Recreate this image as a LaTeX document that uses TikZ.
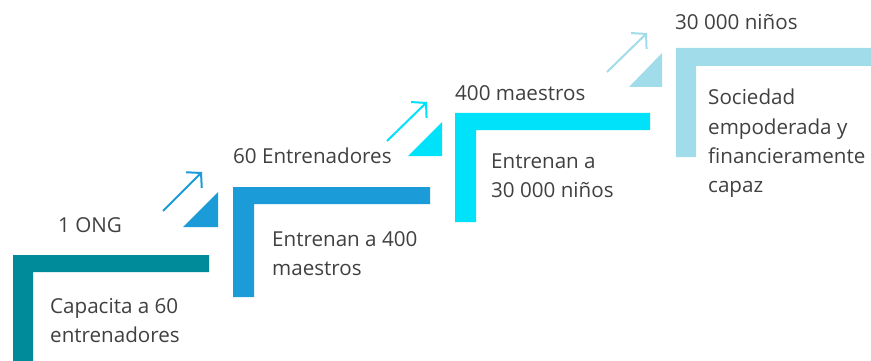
\documentclass[tikz,border=0pt]{standalone}
\usepackage{fontspec}
\setmainfont{Open Sans}
\usetikzlibrary{arrows.meta}
\definecolor{cteal}{RGB}{0,139,155}
\definecolor{cblue}{RGB}{27,155,216}
\definecolor{ccyan}{RGB}{0,225,250}
\definecolor{clight}{RGB}{161,220,234}
\definecolor{ctext}{RGB}{64,64,64}
\tikzset{
  lbl/.style={anchor=base west,inner sep=0pt,text=ctext,font=\fontsize{20.6}{29.5}\selectfont},
  uparrow/.style={line width=2pt,-{Straight Barb[length=10pt,width=22pt,line width=2pt]}},
}
\begin{document}
\begin{tikzpicture}[x=1pt,y=-1pt]
\useasboundingbox (0,0) rectangle (871,361);
% step 1
\fill[cteal] (13,255) -- (209,255) -- (209,272) -- (33,272) -- (33,361) -- (13,361) -- cycle;
% step 2
\fill[cblue] (233,187) -- (430,187) -- (430,204) -- (254,204) -- (254,297) -- (233,297) -- cycle;
\fill[cblue] (183,227) -- (218,192) -- (218,227) -- cycle;
\coordinate (a2s) at (163,211); \coordinate (a2e) at (202,172);
\draw[cblue,uparrow] (a2s) -- (a2e);
% step 3
\fill[ccyan] (455,113) -- (650,113) -- (650,130) -- (476,130) -- (476,222) -- (455,222) -- cycle;
\fill[ccyan] (408,156) -- (442,122) -- (442,156) -- cycle;
\coordinate (a3s) at (387,141); \coordinate (a3e) at (427,102);
\draw[ccyan,uparrow] (a3s) -- (a3e);
% step 4
\fill[clight] (676,48) -- (871,48) -- (871,66) -- (696,66) -- (696,157) -- (676,157) -- cycle;
\fill[clight] (629,87) -- (662,53) -- (662,87) -- cycle;
\coordinate (a4s) at (607,72); \coordinate (a4e) at (647,33);
\draw[clight,uparrow] (a4s) -- (a4e);
% texts
\node[lbl] (t1) at (58,232) {1 ONG};
\node[lbl] (t1a) at (50,313) {Capacita a 60};
\node[lbl] (t1b) at (50,342) {entrenadores};
\node[lbl] (t2) at (233,164) {60 Entrenadores};
\node[lbl] (t2a) at (272,246) {Entrenan a 400};
\node[lbl] (t2b) at (272,275) {maestros};
\node[lbl] (t3) at (455,100) {400 maestros};
\node[lbl] (t3a) at (491,168) {Entrenan a};
\node[lbl] (t3b) at (491,197) {30 000 niños};
\node[lbl] (t4) at (675,30) {30 000 niños};
\node[lbl] (t4a) at (708,105) {Sociedad};
\node[lbl] (t4b) at (708,134) {empoderada y};
\node[lbl] (t4c) at (708,163) {financieramente};
\node[lbl] (t4d) at (708,192) {capaz};
\end{tikzpicture}
\end{document}
